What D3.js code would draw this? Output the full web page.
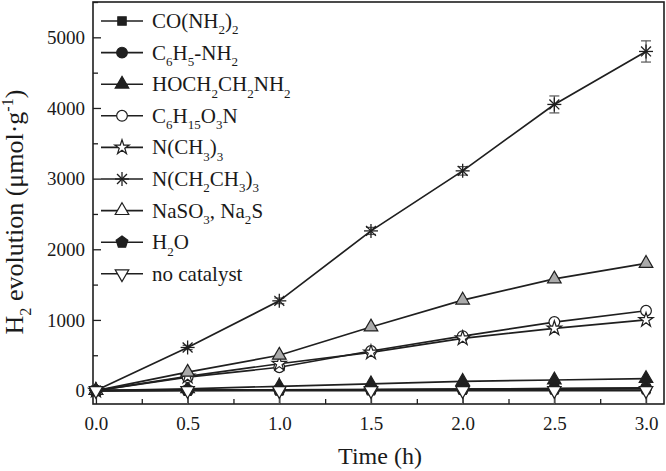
<!DOCTYPE html>
<html>
<head>
<meta charset="utf-8">
<script src="https://cdn.jsdelivr.net/npm/d3@7"></script>
<style>
  body { margin: 0; background: #fff; }
  svg text { font-family: "Liberation Serif", "Times New Roman", serif; fill: #1a1a1a; }
</style>
</head>
<body>
<div id="chart"></div>
<script>
// time points (h)
const times = [0, 0.5, 1.0, 1.5, 2.0, 2.5, 3.0];

// legend labels, "_x" marks a subscript, "^x" a superscript
const seriesNames = ['CO(NH_2)_2', 'C_6H_5-NH_2', 'HOCH_2CH_2NH_2', 'C_6H_1_5O_3N',
  'N(CH_3)_3', 'N(CH_2CH_3)_3', 'NaSO_3, Na_2S', 'H_2O', 'no catalyst'];
const markers = ['square', 'circle', 'triangle', 'circleOpen', 'starOpen', 'asterisk', 'triangleOpen', 'pentagon', 'triangleDown'];

// H2 evolution (umol/g)
const urea      = [0, 5, 10, 15, 20, 25, 30];
const aniline   = [0, 5, 10, 15, 20, 30, 40];
const ethanolam = [0, 25, 60, 95, 130, 150, 170];
const tea       = [0, 190, 330, 560, 770, 970, 1130];
const tma       = [0, 200, 380, 540, 740, 880, 1000];
const triethyl  = [0, 610, 1270, 2260, 3110, 4050, 4800];
const sulfide   = [0, 260, 500, 900, 1280, 1580, 1800];
const water     = [0, 3, 6, 10, 15, 20, 25];
const noCat     = [0, 0, 0, 0, 0, 0, 0];
const seriesValues = [urea, aniline, ethanolam, tea, tma, triethyl, sulfide, water, noCat];
const triethylErr = [0, 30, 40, 50, 60, 120, 150];
const noCatErr = [0, 190, 190, 190, 190, 190, 190];

const xTicks = [0, 0.5, 1.0, 1.5, 2.0, 2.5, 3.0];
const yTicks = [0, 1000, 2000, 3000, 4000, 5000];

const W = 666, H = 471;
const L = 93, R = 664, T = 2, B = 404;

const svg = d3.select('#chart').append('svg')
  .attr('width', W).attr('height', H);

const x = d3.scaleLinear().domain([-0.016, 3.098]).range([L, R]);
const y = d3.scaleLinear().domain([-190, 5500]).range([B, T]);

const ink = '#1f1f1f';
const serif = '"Liberation Serif", "Times New Roman", serif';

svg.append('clipPath').attr('id', 'plot-clip')
  .append('rect').attr('x', L).attr('y', T).attr('width', R - L).attr('height', B - T);

// axes with inward ticks
const xMinor = d3.range(0.25, 3.01, 0.5);
const yMinor = d3.range(500, 5501, 1000);

function styleAxis(g, withText) {
  g.attr('font-family', null);
  g.select('.domain').remove();
  g.selectAll('line').attr('stroke', ink).attr('stroke-width', 1.3);
  if (withText) g.selectAll('text').attr('font-size', 19).attr('fill', ink).style('font-family', serif);
}

svg.append('g').attr('transform', `translate(0,${B})`)
  .call(d3.axisBottom(x).tickValues(xTicks).tickFormat(d3.format('.1f')).tickSizeInner(-8).tickSizeOuter(0).tickPadding(12.5))
  .call(g => styleAxis(g, true));
svg.append('g').attr('transform', `translate(0,${B})`)
  .call(d3.axisBottom(x).tickValues(xMinor).tickFormat('').tickSizeInner(-5).tickSizeOuter(0))
  .call(g => styleAxis(g, false));

svg.append('g').attr('transform', `translate(${L},0)`)
  .call(d3.axisLeft(y).tickValues(yTicks).tickFormat(d3.format('d')).tickSizeInner(-8).tickSizeOuter(0).tickPadding(8))
  .call(g => styleAxis(g, true));
svg.append('g').attr('transform', `translate(${L},0)`)
  .call(d3.axisLeft(y).tickValues(yMinor).tickFormat('').tickSizeInner(-5).tickSizeOuter(0))
  .call(g => styleAxis(g, false));

svg.append('rect').attr('x', L).attr('y', T).attr('width', R - L).attr('height', B - T)
  .attr('fill', 'none').attr('stroke', ink).attr('stroke-width', 1.6);

// rich text helper for sub/superscripts
function richText(sel, str, size) {
  const parts = [];
  let i = 0;
  while (i < str.length) {
    const c = str[i];
    if ((c === '_' || c === '^') && i + 1 < str.length) {
      let j = i, txt = '';
      while (j < str.length && str[j] === c && j + 1 < str.length) { txt += str[j + 1]; j += 2; }
      parts.push({ t: txt, shift: c === '_' ? 0.3 : -0.38 });
      i = j;
    } else {
      let j = i;
      while (j < str.length && str[j] !== '_' && str[j] !== '^') j++;
      parts.push({ t: str.slice(i, j), shift: 0 });
      i = j;
    }
  }
  let cur = 0;
  parts.forEach(p => {
    const target = p.shift * size;
    sel.append('tspan')
      .attr('font-size', p.shift ? size * 0.62 : size)
      .attr('dy', target - cur)
      .text(p.t);
    cur = target;
  });
}

// marker drawing
const pentagon = {
  draw(ctx, size) {
    const r = Math.sqrt(size / 2.38);
    for (let k = 0; k < 5; k++) {
      const a = -Math.PI / 2 + k * 2 * Math.PI / 5;
      k ? ctx.lineTo(r * Math.cos(a), r * Math.sin(a)) : ctx.moveTo(r * Math.cos(a), r * Math.sin(a));
    }
    ctx.closePath();
  }
};
function drawMarker(g, kind, cx, cy, inLegend) {
  const t = `translate(${cx},${cy})`;
  const filled = { fill: ink, stroke: ink };
  const open = { fill: '#fff', stroke: ink };
  let type, size, style, rot = 0;
  switch (kind) {
    case 'square': type = d3.symbolSquare; size = 70; style = filled; break;
    case 'circle': type = d3.symbolCircle; size = 90; style = filled; break;
    case 'triangle': type = d3.symbolTriangle; size = 80; style = filled; break;
    case 'circleOpen': type = d3.symbolCircle; size = 90; style = open; break;
    case 'starOpen': type = d3.symbolStar; size = 65; style = open; break;
    case 'triangleOpen': type = d3.symbolTriangle; size = 80; style = inLegend ? open : { fill: '#aaa', stroke: ink }; break;
    case 'pentagon': type = pentagon; size = 90; style = filled; break;
    case 'triangleDown': type = d3.symbolTriangle; size = 80; style = open; rot = 180; break;
    case 'asterisk': {
      const r = 7;
      [0, 45, 90, 135].forEach(a => {
        const rad = a * Math.PI / 180;
        g.append('line').attr('x1', cx - r * Math.cos(rad)).attr('y1', cy - r * Math.sin(rad))
          .attr('x2', cx + r * Math.cos(rad)).attr('y2', cy + r * Math.sin(rad))
          .attr('stroke', ink).attr('stroke-width', 1.3);
      });
      return;
    }
  }
  g.append('path').attr('d', d3.symbol(type, size)())
    .attr('transform', t + (rot ? ` rotate(${rot})` : ''))
    .attr('fill', style.fill).attr('stroke', style.stroke).attr('stroke-width', 1.2);
}

// error bars
function errorBars(vals, errs, cap) {
  const eb = svg.append('g').attr('stroke', '#555').attr('stroke-width', 1.2).attr('clip-path', 'url(#plot-clip)');
  times.forEach((t, i) => {
    const e = errs[i];
    if (!e) return;
    const cx = x(t), y1 = y(vals[i] - e), y2 = y(vals[i] + e);
    eb.append('line').attr('x1', cx).attr('x2', cx).attr('y1', y1).attr('y2', y2);
    if (cap) {
      eb.append('line').attr('x1', cx - 5).attr('x2', cx + 5).attr('y1', y1).attr('y2', y1);
      eb.append('line').attr('x1', cx - 5).attr('x2', cx + 5).attr('y1', y2).attr('y2', y2);
    }
  });
}
errorBars(noCat, noCatErr, false);
errorBars(triethyl, triethylErr, true);

// lines and markers
const line = d3.line().x((d, i) => x(times[i])).y(d => y(d));
seriesValues.forEach(vals => {
  svg.append('path').datum(vals).attr('d', line)
    .attr('fill', 'none').attr('stroke', ink).attr('stroke-width', 1.7);
});
seriesValues.forEach((vals, s) => {
  const g = svg.append('g');
  vals.forEach((v, i) => drawMarker(g, markers[s], x(times[i]), y(v), false));
});

// legend
const leg = svg.append('g');
seriesNames.forEach((name, i) => {
  const ly = 21 + i * 31.6;
  leg.append('line').attr('x1', 101).attr('x2', 143).attr('y1', ly).attr('y2', ly)
    .attr('stroke', ink).attr('stroke-width', 1.6);
  drawMarker(leg, markers[i], 122, ly, true);
  const tx = leg.append('text').attr('x', 152).attr('y', ly + 7).attr('font-size', 21);
  richText(tx, name, 21);
});

// axis titles
const yt = svg.append('text')
  .attr('transform', `translate(23,212) rotate(-90)`)
  .attr('text-anchor', 'middle').attr('font-size', 26);
richText(yt, 'H_2 evolution (\u03bcmol\u00b7g^-^1)', 26);

svg.append('text').attr('x', 380).attr('y', 464)
  .attr('text-anchor', 'middle').attr('font-size', 24).text('Time (h)');
</script>
</body>
</html>
